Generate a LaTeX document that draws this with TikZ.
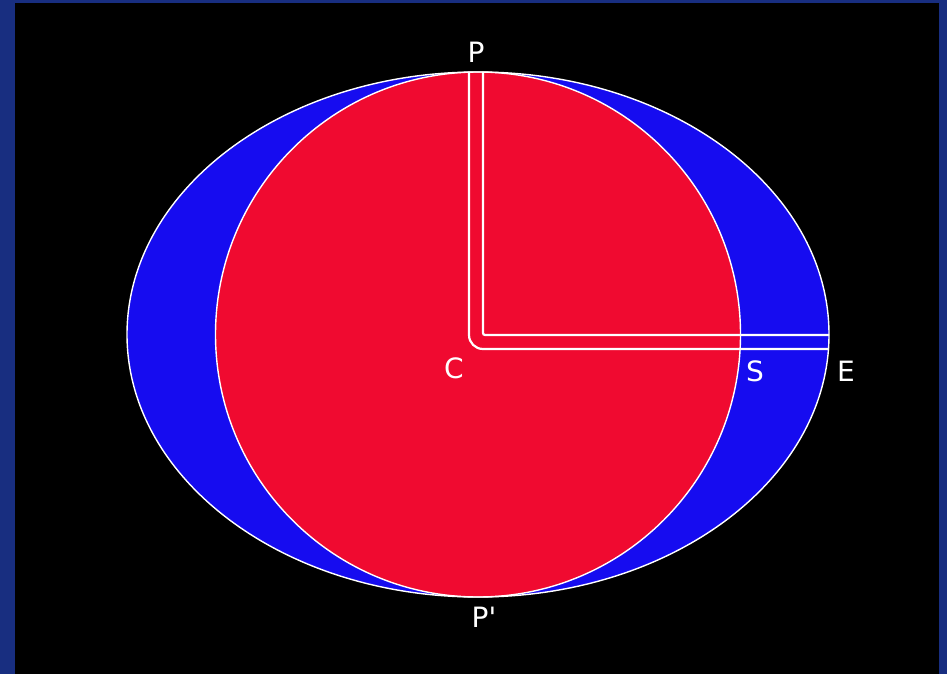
\documentclass[tikz,border=0pt]{standalone}
\usepackage{fontspec}
\setmainfont{DejaVu Sans}
\definecolor{frameblue}{RGB}{24,46,128}
\definecolor{ellblue}{RGB}{22,12,240}
\definecolor{discred}{RGB}{240,10,48}
\tikzset{
  lbl/.style={text=white,font=\fontsize{28}{30}\selectfont,inner sep=0pt},
  outline/.style={draw=white,line width=1.4pt},
  rail/.style={draw=white,line width=2.2pt}
}
\begin{document}
\begin{tikzpicture}[x=1pt,y=-1pt]
\useasboundingbox (0,0) rectangle (947,674);
\fill[frameblue] (0,0) rectangle (947,674);
\fill[black] (15,3) rectangle (939,674);
% ellipse and disc
\fill[ellblue] (478,334.5) ellipse [x radius=351, y radius=262.5];
\fill[discred] (478,334.5) circle [radius=262.5];
\path[outline] (478,334.5) ellipse [x radius=351, y radius=262.5];
\path[outline] (478,334.5) circle [radius=262.5];
% double rail from P to C to E
\coordinate (pa) at (469,72);
\coordinate (pb) at (469,349);
\coordinate (pc) at (829,349);
\coordinate (qa) at (483,72);
\coordinate (qb) at (483,335);
\coordinate (qc) at (829,335);
\draw[rail,rounded corners=14pt] (pa) -- (pb) -- (pc);
\draw[rail,rounded corners=2pt] (qa) -- (qb) -- (qc);
% labels
\node[lbl] (P) at (476,52) {P};
\node[lbl] (C) at (454,368) {C};
\node[lbl] (S) at (755,371) {S};
\node[lbl] (E) at (846,371) {E};
\node[lbl] (Pp) at (484,617) {P\textquotesingle};
\end{tikzpicture}
\end{document}
